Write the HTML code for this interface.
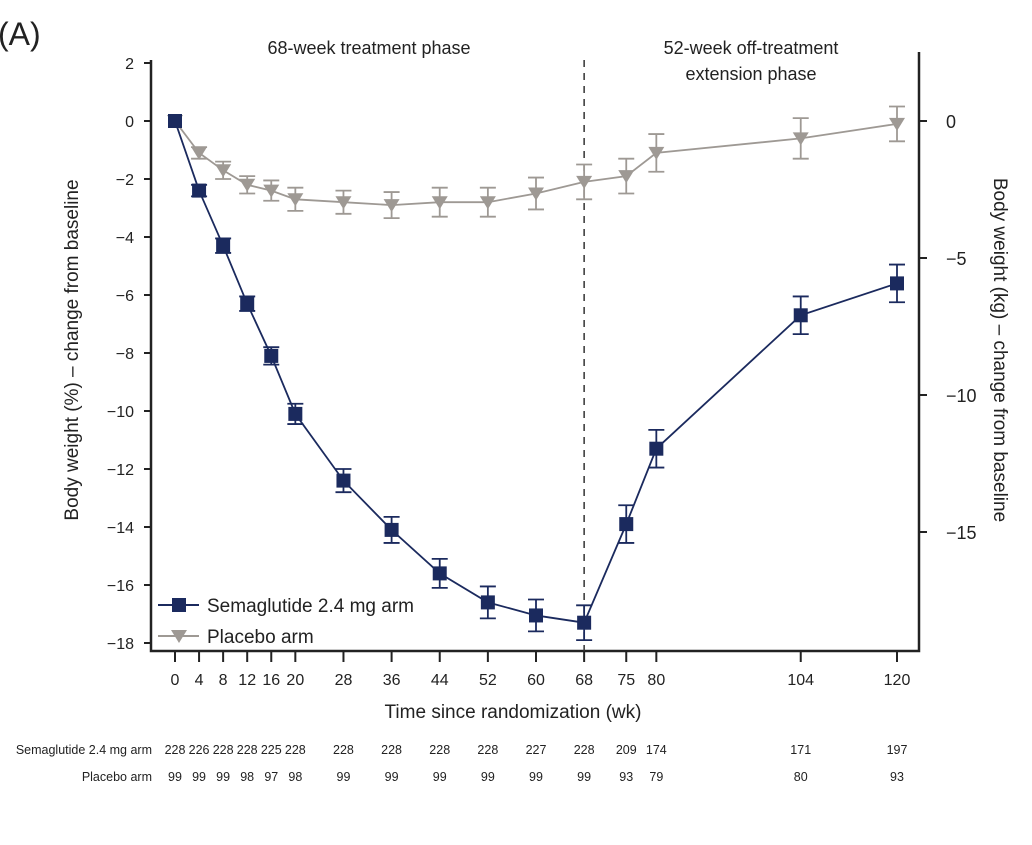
<!DOCTYPE html>
<html><head><meta charset="utf-8"><style>
body{margin:0;background:#fff;width:1032px;height:840px;overflow:hidden}
svg text{font-family:"Liberation Sans",sans-serif;fill:#222}
</style></head><body>
<svg id="c" width="1032" height="840">
<text x="-2" y="45" font-size="32">(A)</text>
<text x="369" y="54" font-size="18" text-anchor="middle">68-week treatment phase</text>
<text x="751" y="54" font-size="18" text-anchor="middle">52-week off-treatment</text>
<text x="751" y="80" font-size="18" text-anchor="middle">extension phase</text>
<g id="axes"></g>
<g id="marks"></g>
<text x="513" y="718" font-size="19" text-anchor="middle">Time since randomization (wk)</text>
<text transform="translate(78,350) rotate(-90)" font-size="19" text-anchor="middle">Body weight (%) – change from baseline</text>
<text transform="translate(994,350) rotate(90)" font-size="19" text-anchor="middle">Body weight (kg) – change from baseline</text>
<g>
<line x1="158" y1="605" x2="199" y2="605" stroke="#1b2a5e" stroke-width="2"/>
<rect x="172" y="598" width="14" height="14" fill="#1b2a5e"/>
<text x="207" y="612" font-size="19">Semaglutide 2.4 mg arm</text>
<line x1="158" y1="636" x2="199" y2="636" stroke="#9e9994" stroke-width="2"/>
<path d="M171,630 L187,630 L179,643 Z" fill="#9e9994"/>
<text x="207" y="643" font-size="19">Placebo arm</text>
</g>
<g id="risk"></g>
</svg>
<script>
const weeks=[0,4,8,12,16,20,28,36,44,52,60,68,75,80,104,120];
const semaMean=[0,-2.4,-4.3,-6.3,-8.1,-10.1,-12.4,-14.1,-15.6,-16.6,-17.05,-17.3,-13.9,-11.3,-6.7,-5.6];
const semaErr=[0,0.2,0.25,0.25,0.3,0.35,0.4,0.45,0.5,0.55,0.55,0.6,0.65,0.65,0.65,0.65];
const placMean=[0,-1.1,-1.7,-2.2,-2.4,-2.7,-2.8,-2.9,-2.8,-2.8,-2.5,-2.1,-1.9,-1.1,-0.6,-0.1];
const placErr=[0,0.2,0.3,0.3,0.35,0.4,0.4,0.45,0.5,0.5,0.55,0.6,0.6,0.65,0.7,0.6];
const semaN=["228","226","228","228","225","228","228","228","228","228","227","228","209","174","171","197"];
const placN=["99","99","99","98","97","98","99","99","99","99","99","99","93","79","80","93"];
const leftTicks=[2,0,-2,-4,-6,-8,-10,-12,-14,-16,-18];
const rightTicks=[0,-5,-10,-15];
const NS="http://www.w3.org/2000/svg";
const X=w=>175+w*722/120, Y=v=>121-v*29, YR=k=>121-k*27.4;
function mk(p,t,a){const e=document.createElementNS(NS,t);for(const k in a)e.setAttribute(k,a[k]);p.appendChild(e);return e;}
const ax=document.getElementById('axes'),mg=document.getElementById('marks'),rk=document.getElementById('risk');
let e;
e=mk(ax,'path',{d:'M151,60 L151,651 L919,651 L919,52',fill:'none',stroke:'#222','stroke-width':2.5});


e=mk(ax,'line',{x1:X(68),y1:60,x2:X(68),y2:651,stroke:'#333','stroke-width':1.5,'stroke-dasharray':'7,6'});


leftTicks.forEach(v=>{
 mk(ax,'line',{x1:144,y1:Y(v),x2:151,y2:Y(v),stroke:'#222','stroke-width':2});
 e=mk(ax,'text',{x:134,y:Y(v)+6,'font-size':16,'text-anchor':'end'});e.textContent=v<0?'−'+(-v):v;
 
 
});
rightTicks.forEach(v=>{
 mk(ax,'line',{x1:919,y1:YR(v),x2:927,y2:YR(v),stroke:'#222','stroke-width':2});
 e=mk(ax,'text',{x:946,y:YR(v)+7,'font-size':18});e.textContent=v<0?'−'+(-v):v;
 
 
});
weeks.forEach((w,i)=>{
 mk(ax,'line',{x1:X(w),y1:651,x2:X(w),y2:662,stroke:'#222','stroke-width':2});
 e=mk(ax,'text',{x:X(w),y:685,'font-size':16,'text-anchor':'middle'});e.textContent=w;
 
 
 e=mk(rk,'text',{x:X(w),y:754,'font-size':12.5,'text-anchor':'middle'});e.textContent=semaN[i];
 
 
 e=mk(rk,'text',{x:X(w),y:781,'font-size':12.5,'text-anchor':'middle'});e.textContent=placN[i];
 
 
});
e=mk(rk,'text',{x:152,y:754,'font-size':12.5,'text-anchor':'end'});e.textContent='Semaglutide 2.4 mg arm';


e=mk(rk,'text',{x:152,y:781,'font-size':12.5,'text-anchor':'end'});e.textContent='Placebo arm';


function series(mean,err,col,shape,name){
 const g=mk(mg,'g',{});
 
 
 e=mk(g,'polyline',{points:weeks.map((w,i)=>X(w)+','+Y(mean[i])).join(' '),fill:'none',stroke:col,'stroke-width':1.8});
 
 
 weeks.forEach((w,i)=>{
  const x=X(w),y1=Y(mean[i]+err[i]),y2=Y(mean[i]-err[i]);
  if(err[i]>0){
   e=mk(g,'path',{d:`M${x},${y1}V${y2}M${x-8},${y1}H${x+8}M${x-8},${y2}H${x+8}`,stroke:col,'stroke-width':1.8,fill:'none'});
   
   
  }
  const y=Y(mean[i]);
  if(shape==='sq') e=mk(g,'rect',{x:x-7,y:y-7,width:14,height:14,fill:col});
  else e=mk(g,'path',{d:`M${x-8},${y-6}L${x+8},${y-6}L${x},${y+7}Z`,fill:col});
  
  
 });
}
series(placMean,placErr,'#9e9994','tri','placebo');
series(semaMean,semaErr,'#1b2a5e','sq','semaglutide');
</script>
</body></html>
